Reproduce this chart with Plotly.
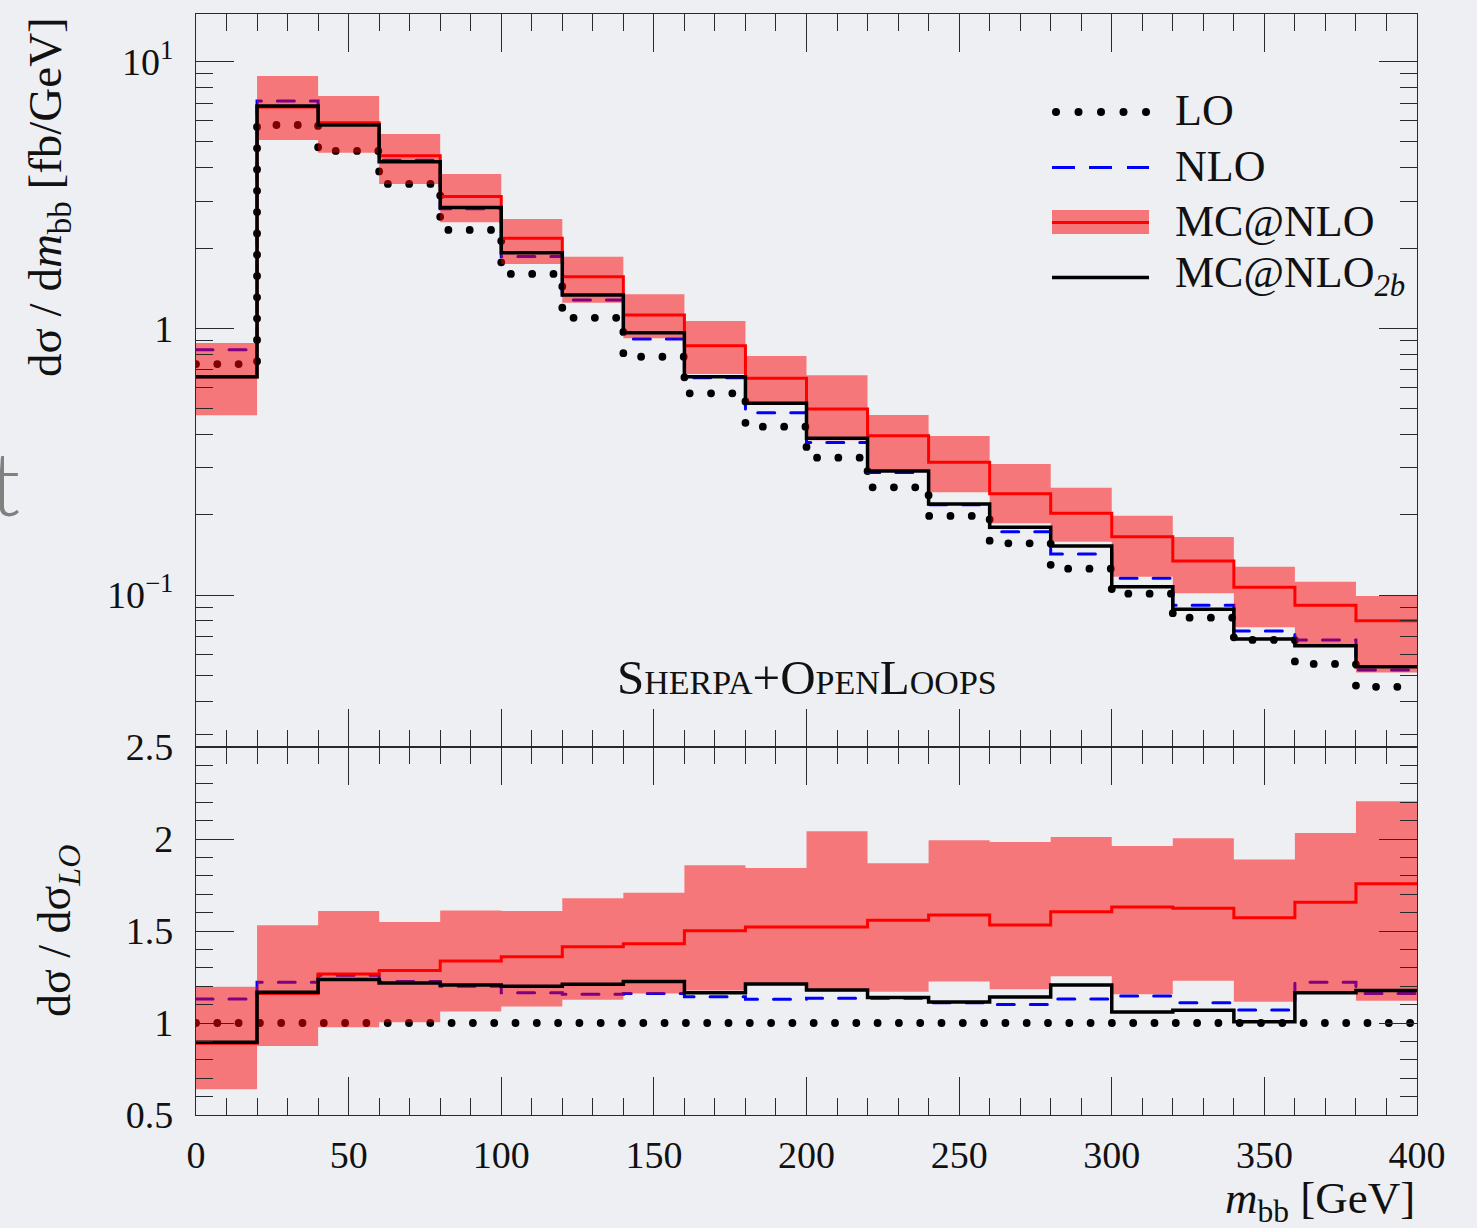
import plotly.graph_objects as go

# ---------------- data ----------------
BIN_EDGES = [0, 20, 40, 60, 80, 100, 120, 140, 160, 180, 200,
             220, 240, 260, 280, 300, 320, 340, 360, 380, 400]

# upper panel: dsigma/dm_bb [fb/GeV]
LO = [0.735, 5.79, 4.63, 3.48, 2.34, 1.60, 1.096, 0.783, 0.571, 0.428,
      0.3275, 0.2536, 0.198, 0.1564, 0.1256, 0.1012, 0.0823, 0.0679, 0.0552, 0.0453]
NLO = [0.832, 7.12, 5.83, 4.27, 2.81, 1.86, 1.278, 0.912, 0.653, 0.483,
       0.373, 0.288, 0.218, 0.1729, 0.1426, 0.1156, 0.0916, 0.0733, 0.0679, 0.0524]
MCNLO = [0.658, 6.76, 5.91, 4.44, 3.12, 2.18, 1.562, 1.122, 0.861, 0.650,
         0.499, 0.396, 0.3147, 0.240, 0.2025, 0.1656, 0.1342, 0.1069, 0.0916, 0.0801]
MCNLO_LOW = [0.472, 5.09, 4.56, 3.48, 2.50, 1.744, 1.248, 0.918, 0.675, 0.521,
             0.381, 0.294, 0.2428, 0.1858, 0.1586, 0.1172, 0.1016, 0.0757, 0.0643, 0.0513]
MCNLO_HIGH = [0.882, 8.84, 7.44, 5.36, 3.79, 2.57, 1.857, 1.342, 1.066, 0.788,
              0.667, 0.4735, 0.395, 0.310, 0.2527, 0.1984, 0.1652, 0.1278, 0.1122, 0.0992]
MCNLO_2B = [0.659, 6.82, 5.79, 4.22, 2.84, 1.922, 1.334, 0.9636, 0.659, 0.524,
            0.387, 0.292, 0.2196, 0.1795, 0.1528, 0.1075, 0.0885, 0.0685, 0.0646, 0.0539]

# lower panel: ratio to LO
R_LO = [1.0] * 20
R_NLO = [1.13, 1.221, 1.26, 1.226, 1.20, 1.165, 1.156, 1.16, 1.143, 1.129,
         1.134, 1.134, 1.11, 1.10, 1.13, 1.147, 1.11, 1.071, 1.221, 1.161]
R_MCNLO = [0.89, 1.16, 1.266, 1.286, 1.337, 1.36, 1.415, 1.431, 1.502, 1.522,
           1.522, 1.558, 1.587, 1.533, 1.605, 1.63, 1.623, 1.572, 1.656, 1.757]
R_MCNLO_LOW = [0.640, 0.875, 0.977, 1.004, 1.062, 1.089, 1.127, 1.16, 1.176, 1.215,
               1.172, 1.170, 1.226, 1.183, 1.254, 1.156, 1.23, 1.116, 1.163, 1.121]
R_MCNLO_HIGH = [1.197, 1.531, 1.609, 1.549, 1.612, 1.609, 1.678, 1.708, 1.857, 1.842,
                2.042, 1.868, 1.993, 1.984, 2.011, 1.962, 2.004, 1.888, 2.033, 2.205]
R_MCNLO_2B = [0.895, 1.167, 1.237, 1.217, 1.207, 1.20, 1.21, 1.225, 1.165, 1.212,
              1.179, 1.138, 1.114, 1.141, 1.207, 1.06, 1.069, 1.007, 1.165, 1.176]

X_TICKS = [0, 50, 100, 150, 200, 250, 300, 350, 400]
Y_TOP_TICKS = [0.1, 1, 10]
Y_TOP_TICKTEXT = ["10<sup>\u22121</sup>", "1", "10<sup>1</sup>"]
Y_TOP_MINOR = [0.03, 0.04, 0.05, 0.06, 0.07, 0.08, 0.09,
               0.2, 0.3, 0.4, 0.5, 0.6, 0.7, 0.8, 0.9,
               2, 3, 4, 5, 6, 7, 8, 9]
Y_BOT_TICKS = [0.5, 1, 1.5, 2, 2.5]
Y_BOT_TICKTEXT = ["0.5", "1", "1.5", "2", "2.5"]
LEGEND_LABELS = ["LO", "NLO", "MC@NLO", "MC@NLO<sub><i>2b</i></sub>"]

# ---------------- styling ----------------
W, H = 1477, 1228
L, R, T, B = 196, 60, 14, 113
PLOT_W = W - L - R
PLOT_H = H - T - B
SPLIT = 368 / PLOT_H          # fraction of height for the ratio panel
BG = "#edeff3"
FONT = "Liberation Serif"
BAND = "rgba(255,0,0,0.5)"
AX = "#2a2a2a"


def step(vals):
    return list(vals) + [vals[-1]]


def px(x):
    return (x - L) / PLOT_W


def py(y):
    return (H - B - y) / PLOT_H


fig = go.Figure()


def add_panel(xa, ya, lo, nlo, mc, band_lo, band_hi, mc2b):
    common = dict(x=BIN_EDGES, mode="lines", xaxis=xa, yaxis=ya,
                  showlegend=False, hoverinfo="skip")
    fig.add_trace(go.Scatter(y=step(lo), name="LO",
                             line=dict(shape="hv", color="black", width=7.8,
                                       dash="0px,21.3px"), **common))
    fig.add_trace(go.Scatter(y=step(nlo), name="NLO",
                             line=dict(shape="hv", color="#0000ff", width=3,
                                       dash="17px,16px"), **common))
    fig.add_trace(go.Scatter(y=step(band_lo), name="MC@NLO band low",
                             line=dict(shape="hv", width=0, color="rgba(0,0,0,0)"),
                             **common))
    fig.add_trace(go.Scatter(y=step(band_hi), name="MC@NLO band high",
                             line=dict(shape="hv", width=0, color="rgba(0,0,0,0)"),
                             fill="tonexty", fillcolor=BAND, **common))
    fig.add_trace(go.Scatter(y=step(mc), name="MC@NLO",
                             line=dict(shape="hv", color="#ff0000", width=3),
                             **common))
    fig.add_trace(go.Scatter(y=step(mc2b), name="MC@NLO 2b",
                             line=dict(shape="hv", color="black", width=3.5),
                             **common))


add_panel("x", "y", LO, NLO, MCNLO, MCNLO_LOW, MCNLO_HIGH, MCNLO_2B)
add_panel("x2", "y2", R_LO, R_NLO, R_MCNLO, R_MCNLO_LOW, R_MCNLO_HIGH, R_MCNLO_2B)

tickfont = dict(family=FONT, size=38, color="#111")
axis_common = dict(showline=True, linecolor=AX, linewidth=1.3, mirror="ticks",
                   ticks="inside", ticklen=38, tickwidth=1.3, tickcolor=AX,
                   showgrid=False, zeroline=False, tickfont=tickfont,
                   automargin=False)
xminor = dict(dtick=10, ticks="inside", ticklen=17, tickwidth=1.3, tickcolor=AX)

fig.update_layout(
    width=W, height=H,
    margin=dict(l=L, r=R, t=T, b=B, autoexpand=False),
    paper_bgcolor=BG, plot_bgcolor=BG,
    showlegend=False,
    xaxis=dict(domain=[0, 1], anchor="y", range=[0, 400], tickvals=X_TICKS,
               showticklabels=False, minor=xminor, **axis_common),
    yaxis=dict(domain=[SPLIT, 1], anchor="x", type="log",
               range=[-1.5696, 1.1789], tickvals=Y_TOP_TICKS,
               ticktext=Y_TOP_TICKTEXT, ticklabelstandoff=14,
               minor=dict(tickvals=Y_TOP_MINOR, ticks="inside", ticklen=17,
                          tickwidth=1.3, tickcolor=AX),
               **axis_common),
    xaxis2=dict(domain=[0, 1], anchor="y2", range=[0, 400], tickvals=X_TICKS,
                matches="x", ticklabelstandoff=6, minor=xminor, **axis_common),
    yaxis2=dict(domain=[0, SPLIT], anchor="x2", range=[0.5, 2.5],
                tickvals=Y_BOT_TICKS, ticktext=Y_BOT_TICKTEXT,
                ticklabelstandoff=14,
                minor=dict(dtick=0.1, ticks="inside", ticklen=17,
                           tickwidth=1.3, tickcolor=AX),
                **axis_common),
)

annotations = [
    dict(text="d\u03c3 / d<i>m</i><sub>bb</sub> [fb/GeV]", textangle=-90,
         x=px(48), y=py(197), xref="paper", yref="paper",
         xanchor="center", yanchor="middle", showarrow=False,
         font=dict(family=FONT, size=47, color="#111")),
    dict(text="d\u03c3 / d\u03c3<sub><i>LO</i></sub>", textangle=-90,
         x=px(58), y=py(931), xref="paper", yref="paper",
         xanchor="center", yanchor="middle", showarrow=False,
         font=dict(family=FONT, size=46, color="#111")),
    dict(text="<i>m</i><sub>bb</sub> [GeV]",
         x=1, y=py(1201), xref="paper", yref="paper",
         xanchor="right", yanchor="middle", showarrow=False,
         font=dict(family=FONT, size=45, color="#111")),
    dict(text="Sherpa+OpenLoops", x=200, y=py(677), xref="x", yref="paper",
         xanchor="center", yanchor="middle", showarrow=False,
         font=dict(family=FONT, size=49, color="#111", variant="small-caps")),
    dict(text="t", x=px(22), y=py(482), xref="paper", yref="paper",
         xanchor="right", yanchor="middle", showarrow=False,
         font=dict(family="Lato", size=88, color="#808080", weight=300)),
]

# manual legend (long samples as in the reference)
leg_text_y = [111, 166, 221, 276]
for lab, yy in zip(LEGEND_LABELS, leg_text_y):
    annotations.append(dict(text=lab, x=px(1173), y=py(yy), xref="paper", yref="paper",
                            xanchor="left", yanchor="middle", showarrow=False,
                            font=dict(family=FONT, size=44, color="#111")))

shapes = []
for cx in [1056, 1078.5, 1101, 1123.5, 1146]:
    shapes.append(dict(type="circle", xref="paper", yref="paper",
                       x0=px(cx - 4), x1=px(cx + 4), y0=py(112 + 4), y1=py(112 - 4),
                       fillcolor="black", line=dict(width=0)))
for x0, x1 in [(1052, 1075), (1089, 1112), (1127, 1149)]:
    shapes.append(dict(type="line", xref="paper", yref="paper",
                       x0=px(x0), x1=px(x1), y0=py(167.5), y1=py(167.5),
                       line=dict(color="#0000ff", width=3)))
shapes.append(dict(type="rect", xref="paper", yref="paper",
                   x0=px(1052), x1=px(1149), y0=py(234), y1=py(210),
                   fillcolor=BAND, line=dict(width=0)))
shapes.append(dict(type="line", xref="paper", yref="paper",
                   x0=px(1052), x1=px(1149), y0=py(222.5), y1=py(222.5),
                   line=dict(color="#ff0000", width=3)))
shapes.append(dict(type="line", xref="paper", yref="paper",
                   x0=px(1052), x1=px(1149), y0=py(277.5), y1=py(277.5),
                   line=dict(color="black", width=3.5)))

fig.update_layout(annotations=annotations, shapes=shapes)

post = ("var s=document.createElement('style');"
        "s.innerHTML='body{margin:0;padding:0;overflow:hidden;}"
        ".scatterlayer path.js-line{stroke-linecap:round;}';"
        "document.head.appendChild(s);")
fig.write_html("out.html", post_script=post, config={"displayModeBar": False})
